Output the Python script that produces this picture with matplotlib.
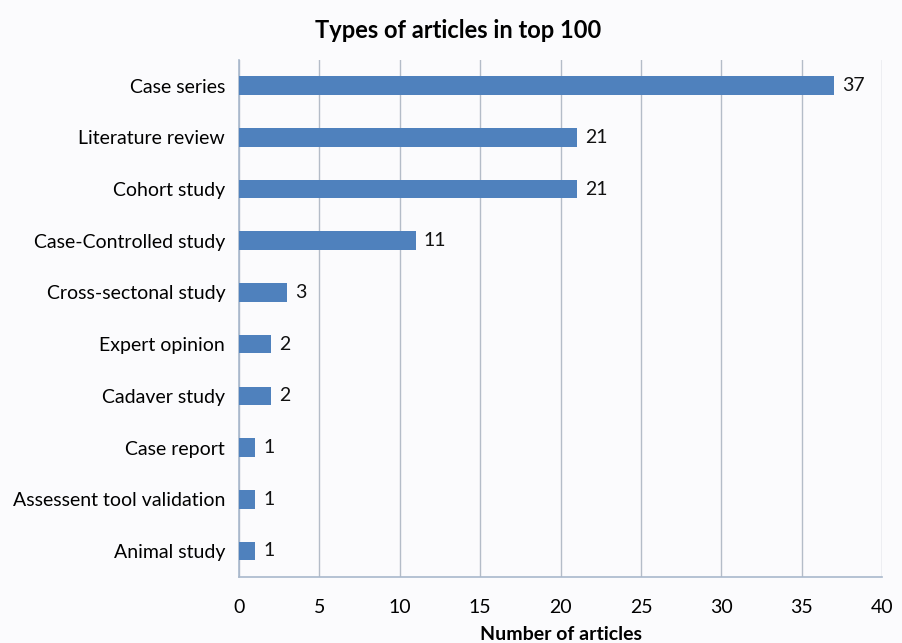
import matplotlib
matplotlib.use("Agg")
import matplotlib.pyplot as plt

categories = ["Case series", "Literature review", "Cohort study", "Case-Controlled study",
              "Cross-sectonal study", "Expert opinion", "Cadaver study", "Case report",
              "Assessent tool validation", "Animal study"]
values = [37, 21, 21, 11, 3, 2, 2, 1, 1, 1]
xticks = [0, 5, 10, 15, 20, 25, 30, 35, 40]

plt.rcParams['font.family'] = ['Lato', 'DejaVu Sans']

fig = plt.figure(figsize=(9.02, 6.43), dpi=100, facecolor='#fbfbfd')
ax = fig.add_axes([0.265, 0.103, 0.713, 0.804])
ax.set_facecolor('#fbfbfd')

ypos = list(range(len(categories)))
ax.barh(ypos, values, height=0.36, color='#4f81bd', zorder=3)
for y, v in zip(ypos, values):
    ax.text(v + 0.5, y, str(v), va='center', ha='left', fontsize=14, color='#111111')

ax.set_ylim(len(categories) - 0.5, -0.5)
ax.set_yticks(ypos)
ax.set_yticklabels(categories, fontsize=14)
ax.set_xlim(0, 40)
ax.set_xticks(xticks)
ax.set_xticklabels([str(t) for t in xticks], fontsize=14)
ax.tick_params(axis='y', length=0, pad=10)
ax.tick_params(axis='x', length=0, pad=16)
ax.grid(axis='x', color='#b4bcc8', linewidth=1, zorder=0)
for s in ['top', 'right']:
    ax.spines[s].set_visible(False)
for s in ['left', 'bottom']:
    ax.spines[s].set_color('#a9b8cc')
    ax.spines[s].set_linewidth(1.2)

ax.set_xlabel("Number of articles", fontsize=14, fontweight='bold', labelpad=7)
fig.text(0.508, 0.952, "Types of articles in top 100", ha='center', va='center',
         fontsize=17, fontweight='bold')

fig.savefig("out.png", dpi=100, facecolor=fig.get_facecolor())
